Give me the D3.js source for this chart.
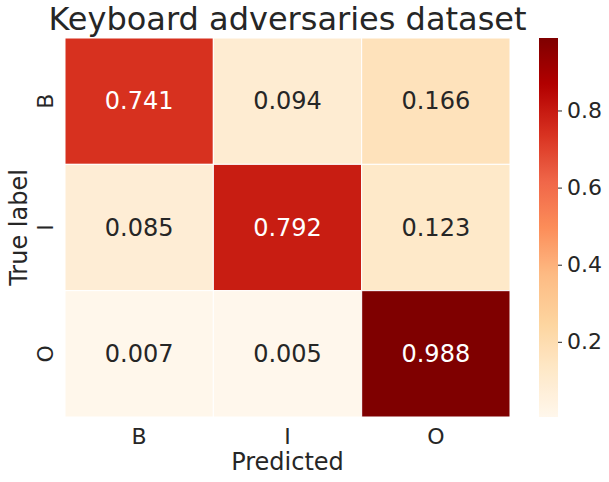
<!DOCTYPE html>
<html>
<head>
<meta charset="utf-8">
<script src="https://cdn.jsdelivr.net/npm/d3@7"></script>
<style>
  body { margin: 0; background: #fff; }
  text { font-family: "DejaVu Sans", sans-serif; fill: #262626; }
</style>
</head>
<body>
<div id="container"></div>
<script>
// confusion matrix values, rows = true label, cols = predicted
const labels = ["B", "I", "O"];
const rowB = [0.741, 0.094, 0.166];
const rowI = [0.085, 0.792, 0.123];
const rowO = [0.007, 0.005, 0.988];
const matrix = [rowB, rowI, rowO];
const cbarTicks = [0.2, 0.4, 0.6, 0.8];

const width = 609, height = 482;
const margin = { top: 38, left: 65 };
const plotW = 445, plotH = 379;

const svg = d3.select("#container").append("svg")
              .attr("width", width)
              .attr("height", height);

const cells = [];
matrix.forEach((row, i) => row.forEach((v, j) => cells.push({ r: labels[i], c: labels[j], v: v })));

const vmin = d3.min(cells, d => d.v), vmax = d3.max(cells, d => d.v);

// matplotlib OrRd
const orrd = ["#fff7ec", "#fee8c8", "#fdd49e", "#fdbb84", "#fc8d59", "#ef6548", "#d7301f", "#b30000", "#7f0000"];
const colorScale = d3.scaleLinear()
                     .domain(d3.range(orrd.length).map(k => vmin + (vmax - vmin) * k / (orrd.length - 1)))
                     .range(orrd)
                     .interpolate(d3.interpolateRgb)
                     .clamp(true);

const xScale = d3.scaleBand().domain(labels).range([0, plotW]);
const yScale = d3.scaleBand().domain(labels).range([0, plotH]);

const plot = svg.append("g").attr("transform", "translate(" + margin.left + "," + margin.top + ")");

plot.selectAll("rect.cell")
    .data(cells)
    .join("rect")
    .attr("class", "cell")
    .attr("x", d => xScale(d.c))
    .attr("y", d => yScale(d.r))
    .attr("width", xScale.bandwidth())
    .attr("height", yScale.bandwidth())
    .attr("fill", d => colorScale(d.v))
    .attr("stroke", "white")
    .attr("stroke-width", 1);

plot.selectAll("text.annot")
    .data(cells)
    .join("text")
    .attr("class", "annot")
    .attr("x", d => xScale(d.c) + xScale.bandwidth() / 2)
    .attr("y", d => yScale(d.r) + yScale.bandwidth() / 2)
    .attr("text-anchor", "middle")
    .attr("dominant-baseline", "central")
    .style("font-size", "24px")
    .style("fill", d => {
        const c = d3.rgb(colorScale(d.v));
        const lum = 0.2126 * c.r + 0.7152 * c.g + 0.0722 * c.b;
        return lum < 103 ? "#ffffff" : "#262626";
    })
    .text(d => d3.format(".3f")(d.v));

// x axis
const xAxis = d3.axisBottom(xScale).tickSize(0).tickPadding(11);
const xAxisArea = plot.append("g").attr("transform", "translate(0," + plotH + ")").call(xAxis);
xAxisArea.select(".domain").remove();
xAxisArea.selectAll("text").style("font-size", "22px").attr("fill", "#262626");

// y axis, rotated tick labels
const yAxis = d3.axisLeft(yScale).tickSize(0);
const yAxisArea = plot.append("g").call(yAxis);
yAxisArea.select(".domain").remove();
yAxisArea.selectAll("text")
         .style("font-size", "22px")
         .attr("fill", "#262626")
         .attr("x", null).attr("dy", null)
         .attr("text-anchor", "middle")
         .attr("transform", "translate(-12,0) rotate(-90)");

svg.append("text")
   .attr("x", margin.left + plotW / 2)
   .attr("y", 470)
   .attr("text-anchor", "middle")
   .style("font-size", "24px")
   .text("Predicted");

svg.append("text")
   .attr("transform", "translate(27," + (margin.top + plotH / 2) + ") rotate(-90)")
   .attr("text-anchor", "middle")
   .style("font-size", "24px")
   .text("True label");

svg.append("text")
   .attr("x", margin.left + plotW / 2)
   .attr("y", 30)
   .attr("text-anchor", "middle")
   .style("font-size", "32px")
   .text("Keyboard adversaries dataset");

// colorbar
const cbX = 539, cbW = 19;
const cScale = d3.scaleLinear().domain([vmin, vmax]).range([margin.top + plotH, margin.top]);

const grad = svg.append("defs").append("linearGradient")
                .attr("id", "cbar")
                .attr("x1", 0).attr("y1", 1).attr("x2", 0).attr("y2", 0);
d3.range(0, 1.0001, 0.02).forEach(t => {
    grad.append("stop")
        .attr("offset", t)
        .attr("stop-color", colorScale(vmin + (vmax - vmin) * t));
});

svg.append("rect")
   .attr("x", cbX)
   .attr("y", margin.top)
   .attr("width", cbW)
   .attr("height", plotH)
   .attr("fill", "url(#cbar)");

const cAxis = d3.axisRight(cScale).tickValues(cbarTicks).tickSize(4).tickPadding(5).tickFormat(d3.format(".1f"));
const cAxisArea = svg.append("g").attr("transform", "translate(" + (cbX + cbW) + ",0)").call(cAxis);
cAxisArea.select(".domain").remove();
cAxisArea.selectAll("line").attr("stroke", "#262626").attr("stroke-width", 1);
cAxisArea.selectAll("text").style("font-size", "22px").attr("fill", "#262626");
</script>
</body>
</html>
